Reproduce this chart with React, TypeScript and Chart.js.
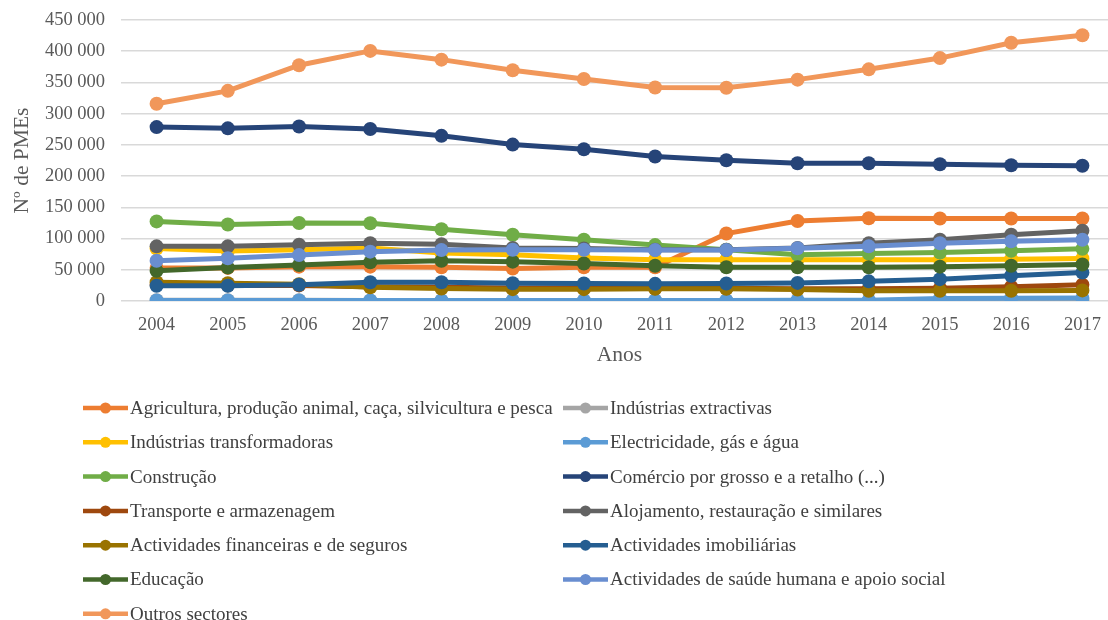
import React, { useEffect, useRef } from "react";
import { Chart, registerables } from "chart.js";

Chart.register(...registerables);

const years = ["2004", "2005", "2006", "2007", "2008", "2009", "2010", "2011", "2012", "2013", "2014", "2015", "2016", "2017"];

const agricultura = [53000, 53000, 55000, 55000, 54000, 52000, 54000, 54000, 108000, 128000, 132500, 132000, 132000, 132000];
const extractivas = [1200, 1100, 1100, 1000, 1000, 1000, 900, 900, 900, 900, 900, 900, 1000, 1000];
const transformadoras = [84000, 80000, 82000, 85000, 77000, 74000, 69000, 66000, 66000, 66000, 66000, 66000, 67000, 68000];
const electricidade = [1000, 1000, 1000, 1000, 1000, 1000, 1000, 1000, 1000, 1100, 1200, 4000, 4500, 4800];
const construcao = [127500, 122500, 125000, 124500, 115000, 106000, 98000, 89500, 82000, 74000, 76000, 77500, 80500, 83500];
const comercio = [278500, 276500, 279500, 275500, 264500, 250500, 243000, 231500, 225500, 220500, 220500, 219000, 217500, 216500];
const transporte = [26000, 25000, 25000, 23000, 22000, 21000, 21000, 20500, 20500, 19500, 19500, 20500, 23000, 26000];
const alojamento = [87500, 87500, 90000, 92500, 91000, 85000, 84000, 82000, 82000, 85000, 92500, 98000, 106000, 112500];
const financeiras = [30000, 28500, 27000, 22000, 20000, 19000, 19000, 19500, 19500, 18500, 16500, 16500, 16500, 17000];
const imobiliarias = [24500, 24500, 26000, 30000, 30000, 28500, 28000, 27500, 28000, 29000, 31500, 35000, 40500, 45500];
const educacao = [48500, 53500, 57500, 62000, 64500, 63000, 60000, 56500, 54000, 54000, 54000, 55000, 56500, 58500];
const saude = [64500, 68500, 73500, 79000, 81500, 82000, 82000, 81500, 81500, 84500, 87500, 92500, 95500, 98000];
const outros = [316000, 336500, 377500, 400500, 386500, 369500, 355500, 342000, 341500, 354500, 371000, 389000, 413500, 425500];

const seriesNames = [
  "Agricultura, produção animal, caça, silvicultura e pesca",
  "Indústrias extractivas",
  "Indústrias transformadoras",
  "Electricidade, gás e água",
  "Construção",
  "Comércio por grosso e a retalho (...)",
  "Transporte e armazenagem",
  "Alojamento, restauração e similares",
  "Actividades financeiras e de seguros",
  "Actividades imobiliárias",
  "Educação",
  "Actividades de saúde humana e apoio social",
  "Outros sectores",
];
const seriesValues = [
  agricultura, extractivas, transformadoras, electricidade, construcao, comercio,
  transporte, alojamento, financeiras, imobiliarias, educacao, saude, outros,
];
const seriesColors = [
  "#ED7D31", "#A5A5A5", "#FFC000", "#5B9BD5", "#70AD47", "#264478",
  "#9E480E", "#636363", "#997300", "#255E91", "#43682B", "#698ED0", "#F1975A",
];

const yTicks = [0, 50000, 100000, 150000, 200000, 250000, 300000, 350000, 400000, 450000];
const yTitle = "Nº de PMEs";
const xTitle = "Anos";

const FONT = '"Liberation Serif", "Times New Roman", serif';

const fmt = (v: number) => String(v).replace(/\B(?=(\d{3})+(?!\d))/g, " ");

const legendPlugin = {
  id: "twoColLegend",
  afterDraw(chart: any) {
    const ctx = chart.ctx;
    ctx.save();
    const colX = [83, 563];
    const y0 = 408;
    const step = 34.3;
    seriesNames.forEach((name, i) => {
      const col = i % 2;
      const row = Math.floor(i / 2);
      const x = colX[col];
      const y = y0 + row * step;
      ctx.strokeStyle = seriesColors[i];
      ctx.lineWidth = 4.5;
      ctx.lineCap = "butt";
      ctx.beginPath();
      ctx.moveTo(x, y);
      ctx.lineTo(x + 45, y);
      ctx.stroke();
      ctx.fillStyle = seriesColors[i];
      ctx.beginPath();
      ctx.arc(x + 22.5, y, 5.5, 0, Math.PI * 2);
      ctx.fill();
      ctx.fillStyle = "#404040";
      ctx.font = `19px ${FONT}`;
      ctx.textBaseline = "middle";
      ctx.textAlign = "left";
      ctx.fillText(name, x + 47, y + 1);
    });
    ctx.restore();
  },
};

export default function App() {
  const ref = useRef<HTMLCanvasElement | null>(null);
  useEffect(() => {
    if (!ref.current) return;
    const chart = new Chart(ref.current, {
      type: "line",
      data: {
        labels: years,
        datasets: seriesValues.map((vals, i) => ({
          label: seriesNames[i],
          data: vals,
          borderColor: seriesColors[i],
          backgroundColor: seriesColors[i],
          pointBackgroundColor: seriesColors[i],
          pointBorderWidth: 0,
          pointRadius: 7,
          borderWidth: 5,
          tension: 0,
          order: seriesValues.length - i,
        })),
      },
      options: {
        responsive: false,
        maintainAspectRatio: false,
        animation: false,
        layout: { padding: { top: 20, right: 6, bottom: 248, left: 0 } },
        plugins: {
          legend: { display: false },
          tooltip: { enabled: false },
        },
        scales: {
          x: {
            offset: true,
            grid: { display: false, drawTicks: false },
            border: { display: false },
            ticks: { color: "#595959", font: { family: FONT, size: 18.5 }, padding: 13 },
            title: { display: true, text: xTitle, color: "#595959", font: { family: FONT, size: 21.5 }, padding: { top: 6, bottom: 4 } },
            afterFit: (s: any) => { s.height = 71; s.paddingLeft = 0; s.paddingRight = 0; },
          },
          y: {
            min: 0,
            max: 450000,
            afterBuildTicks: (s: any) => { s.ticks = yTicks.map((v) => ({ value: v })); },
            grid: { color: "#D9D9D9", lineWidth: 1.5, drawTicks: false },
            border: { display: false },
            ticks: { color: "#595959", font: { family: FONT, size: 18.5 }, padding: 16, callback: (v: any) => fmt(Number(v)) },
            title: { display: true, text: yTitle, color: "#595959", font: { family: FONT, size: 21.5 }, padding: { top: 9, bottom: 0 } },
            afterFit: (s: any) => { s.width = 121; s.paddingTop = 0; s.paddingBottom = 0; },
          },
        },
      },
      plugins: [legendPlugin],
    });
    return () => chart.destroy();
  }, []);
  return (
    <div style={{ position: "absolute", left: 0, top: 0, width: 1108, height: 620, overflow: "hidden", background: "#fff" }}>
      <canvas ref={ref} width={1125} height={620} />
    </div>
  );
}
